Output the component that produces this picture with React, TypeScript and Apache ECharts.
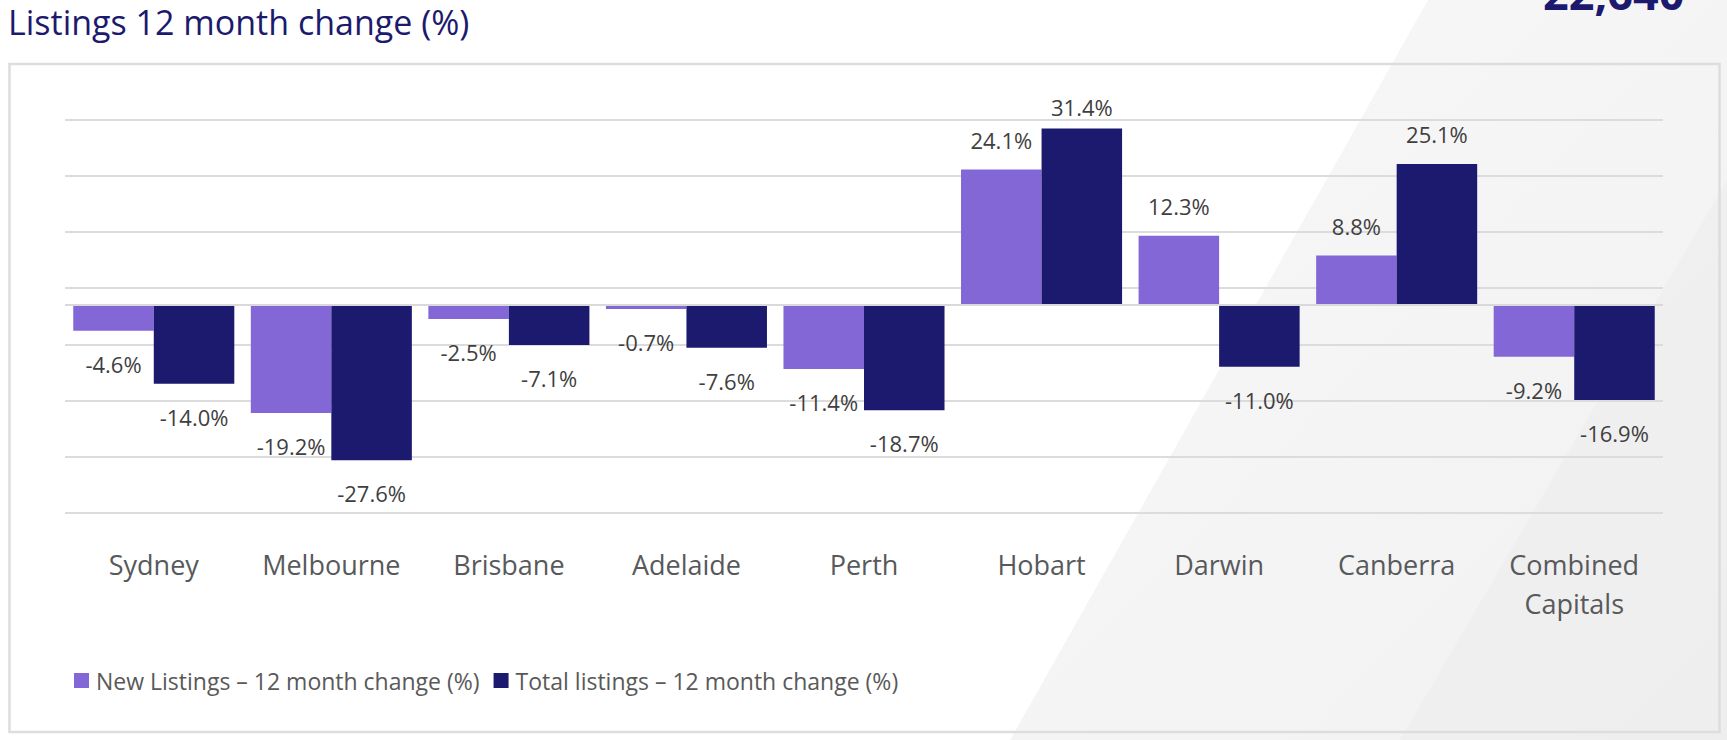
import React, { useEffect, useRef } from "react";
import * as echarts from "echarts";

const categories = [
  "Sydney",
  "Melbourne",
  "Brisbane",
  "Adelaide",
  "Perth",
  "Hobart",
  "Darwin",
  "Canberra",
  "Combined\nCapitals",
];
const newListings = [-4.6, -19.2, -2.5, -0.7, -11.4, 24.1, 12.3, 8.8, -9.2];
const totalListings = [-14.0, -27.6, -7.1, -7.6, -18.7, 31.4, -11.0, 25.1, -16.9];
const seriesNames = [
  "New Listings – 12 month change (%)",
  "Total listings – 12 month change (%)",
];
const titleText = "Listings 12 month change (%)";
const cornerFigure = "22,640";

const NAVY = "#1c1a6e";
const PURPLE = "#8367d6";
const FONT = '"Open Sans", "Noto Sans", sans-serif';

function toItems(values: number[]) {
  return values.map((v) => ({
    value: v,
    label: { distance: v < 0 ? 22 : v > 30 ? 10 : 19 },
  }));
}

export default function App() {
  const ref = useRef<HTMLDivElement>(null);
  useEffect(() => {
    if (!ref.current) return;
    const chart = echarts.init(ref.current, null, { renderer: "svg" });
    const labelStyle = {
      show: true,
      position: "outside",
      fontFamily: FONT,
      fontSize: 22,
      fontWeight: 500,
      color: "#3f3f3f",
      formatter: (p: any) => `${Number(p.value).toFixed(1)}%`,
    };
    chart.setOption({
      animation: false,
      backgroundColor: "#ffffff",
      graphic: [
        {
          type: "polygon",
          z: -100,
          silent: true,
          shape: {
            points: [
              [1428, 0],
              [1727, 0],
              [1727, 740],
              [1010, 740],
            ],
          },
          style: {
            fill: new echarts.graphic.LinearGradient(0, 0, 1, 1, [
              { offset: 0, color: "#f8f8f8" },
              { offset: 1, color: "#f1f1f1" },
            ]),
          },
        },
        {
          type: "polygon",
          z: -99,
          silent: true,
          shape: {
            points: [
              [1727, 180],
              [1727, 740],
              [1400, 740],
            ],
          },
          style: { fill: "#e9e9e9", opacity: 0.3 },
        },
        {
          type: "rect",
          z: -50,
          silent: true,
          shape: { x: 9.5, y: 64, width: 1710, height: 668 },
          style: { fill: "none", stroke: "#dcdde0", lineWidth: 2.5 },
        },
        {
          type: "text",
          x: 8,
          y: 22,
          style: {
            text: titleText,
            font: `34px ${FONT}`,
            fill: NAVY,
            align: "left",
            verticalAlign: "middle",
          },
        },
        {
          type: "text",
          x: 1543,
          y: -8,
          style: {
            text: cornerFigure,
            font: `bold 45px ${FONT}`,
            fill: NAVY,
            align: "left",
            verticalAlign: "middle",
          },
        },
      ],
      legend: {
        left: 69,
        top: 664,
        itemWidth: 15,
        itemHeight: 15,
        itemGap: 14,
        icon: "rect",
        textStyle: {
          fontFamily: FONT,
          fontSize: 23,
          color: "#595959",
          padding: [0, 0, 0, 2],
        },
        data: seriesNames,
      },
      grid: { left: 65, right: 64, top: 119.5, bottom: 227 },
      xAxis: {
        type: "category",
        data: categories,
        axisLine: { show: false, onZero: false },
        axisTick: { show: false },
        splitLine: { show: false },
        axisLabel: {
          fontFamily: FONT,
          fontSize: 27,
          lineHeight: 39,
          margin: 32,
          color: "#58595b",
          interval: 0,
        },
      },
      yAxis: {
        type: "value",
        min: -37,
        max: 33,
        interval: 10,
        axisLabel: { show: false },
        axisLine: { show: false },
        axisTick: { show: false },
        splitLine: { lineStyle: { color: "#dcdcdc", width: 2 } },
      },
      series: [
        {
          name: seriesNames[0],
          type: "bar",
          data: toItems(newListings),
          itemStyle: { color: PURPLE },
          barGap: "0%",
          barCategoryGap: "9.3%",
          label: labelStyle,
          markLine: {
            silent: true,
            symbol: "none",
            label: { show: false },
            lineStyle: { color: "#d9d9d9", width: 2, type: "solid" },
            data: [{ yAxis: 0 }],
          },
        },
        {
          name: seriesNames[1],
          type: "bar",
          data: toItems(totalListings),
          itemStyle: { color: NAVY },
          barGap: "0%",
          barCategoryGap: "9.3%",
          label: labelStyle,
        },
      ],
    });
    return () => chart.dispose();
  }, []);
  return (
    <div
      ref={ref}
      style={{ position: "fixed", left: 0, top: 0, width: 1727, height: 740 }}
    />
  );
}
